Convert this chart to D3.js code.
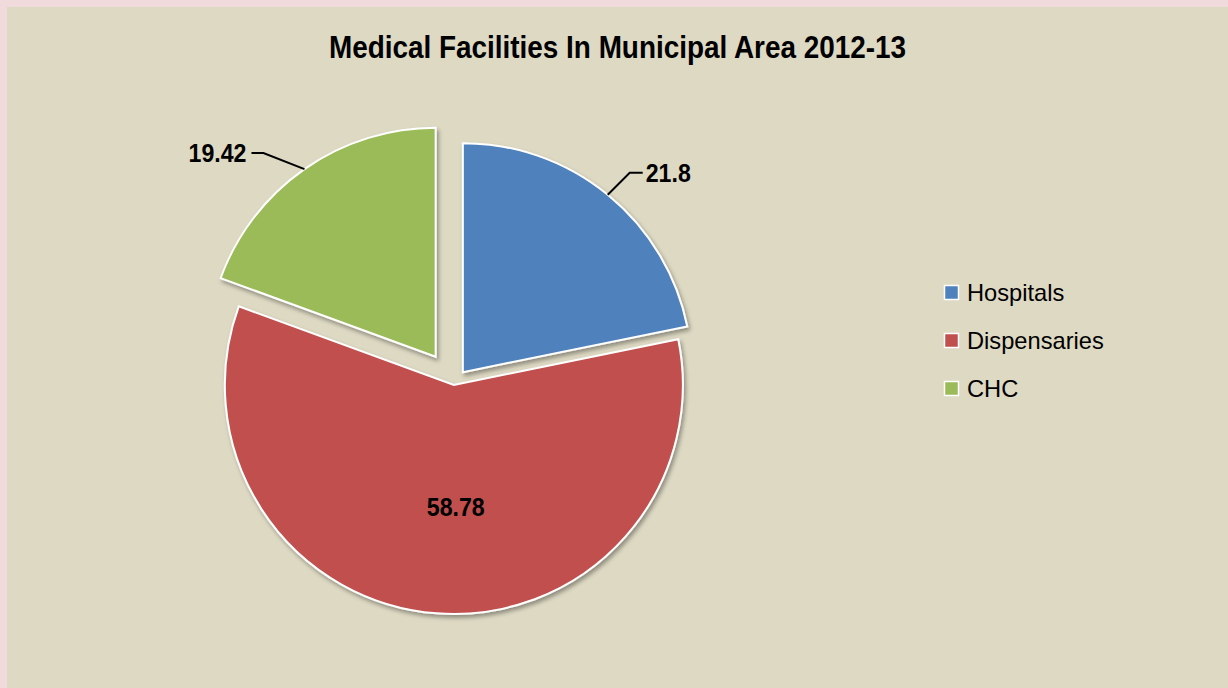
<!DOCTYPE html>
<html>
<head>
<meta charset="utf-8">
<script src="https://cdn.jsdelivr.net/npm/d3@7/dist/d3.min.js"></script>
<style>
  html, body { margin: 0; padding: 0; background: #f0dadb; }
  svg { display: block; }
</style>
</head>
<body>
<svg id="chart" width="1228" height="688"></svg>
<script>
const categories = ["Hospitals", "Dispensaries", "CHC"];
const values = [21.8, 58.78, 19.42];
const colors = ["#4f81bd", "#c0504d", "#9bbb59"];
const explode = [14, 2, 32]; // explosion distance per slice (px)
const title = "Medical Facilities In Municipal Area 2012-13";

const W = 1228, H = 688;
const svg = d3.select("#chart");
const font = "'Liberation Sans', Arial, sans-serif";

// background: pink frame on top/left, tan plot
svg.append("rect").attr("width", W).attr("height", H).attr("fill", "#f0dadb");
svg.append("rect").attr("x", 7).attr("y", 7).attr("width", W - 7).attr("height", H - 7).attr("fill", "#ddd9c3");

const defs = svg.append("defs");
const f = defs.append("filter").attr("id", "shadow").attr("x", "-10%").attr("y", "-10%").attr("width", "130%").attr("height", "130%");
f.append("feDropShadow").attr("dx", 2).attr("dy", 3).attr("stdDeviation", 2.2)
  .attr("flood-color", "#000").attr("flood-opacity", 0.35);

// helper: text horizontally scaled around its anchor point
function condensedText(parent, x, y, sx, txt, size, weight, anchor) {
  return parent.append("text")
    .attr("transform", `translate(${x},${y}) scale(${sx},1)`)
    .attr("text-anchor", anchor)
    .attr("font-family", font)
    .attr("font-weight", weight)
    .attr("font-size", size)
    .attr("fill", "#000")
    .text(txt);
}

// title
condensedText(svg, 617.5, 58, 0.9, title, 31, "bold", "middle");

const cx = 454, cy = 383, R = 229;
const pie = d3.pie().sort(null).value(d => d).startAngle(0).endAngle(2 * Math.PI);
const arcs = pie(values);
const arc = d3.arc().innerRadius(0).outerRadius(R);

const g = svg.append("g").attr("transform", `translate(${cx},${cy})`);

function mid(a) { return (a.startAngle + a.endAngle) / 2; }
function offset(i) {
  const m = mid(arcs[i]);
  return [explode[i] * Math.sin(m), -explode[i] * Math.cos(m)];
}

g.selectAll("path.slice")
  .data(arcs)
  .join("path")
  .attr("class", "slice")
  .attr("transform", (d, i) => { const o = offset(i); return `translate(${o[0]},${o[1]})`; })
  .attr("d", arc)
  .attr("fill", (d, i) => colors[i])
  .attr("stroke", "#fff")
  .attr("stroke-width", 2)
  .attr("stroke-linejoin", "miter")
  .attr("filter", "url(#shadow)");

// data labels
arcs.forEach((a, i) => {
  const o = offset(i);
  const m = mid(a);
  const sx = Math.sin(m), sy = -Math.cos(m);
  if (values[i] > 50) {
    const r = 0.53 * R;
    condensedText(g, o[0] + sx * r + 11, o[1] + sy * r + 10, 0.89, values[i], 26, "bold", "middle");
  } else {
    const p0 = [o[0] + sx * R, o[1] + sy * R];
    const right = sx > 0;
    const p1 = right ? [p0[0] + 22, p0[1] - 22] : [p0[0] - 41, p0[1] - 16];
    const p2 = right ? [p1[0] + 13, p1[1]] : [p1[0] - 12, p1[1]];
    g.append("polyline")
      .attr("points", [p0, p1, p2].map(p => p.join(",")).join(" "))
      .attr("fill", "none").attr("stroke", "#000").attr("stroke-width", 2);
    condensedText(g, right ? p2[0] + 3 : p2[0] - 5, p2[1] + 9, 0.89, values[i], 26, "bold", right ? "start" : "end");
  }
});

// legend
const legend = svg.append("g").attr("transform", "translate(944,285)");
categories.forEach((c, i) => {
  const row = legend.append("g").attr("transform", `translate(0,${i * 48})`);
  row.append("rect")
    .attr("x", 0.5).attr("y", 0.5).attr("width", 14).attr("height", 14)
    .attr("fill", colors[i]).attr("stroke", "#fff").attr("stroke-width", 1.5);
  condensedText(row, 23, 15.5, 1.03, c, 23, "normal", "start");
});
</script>
</body>
</html>
